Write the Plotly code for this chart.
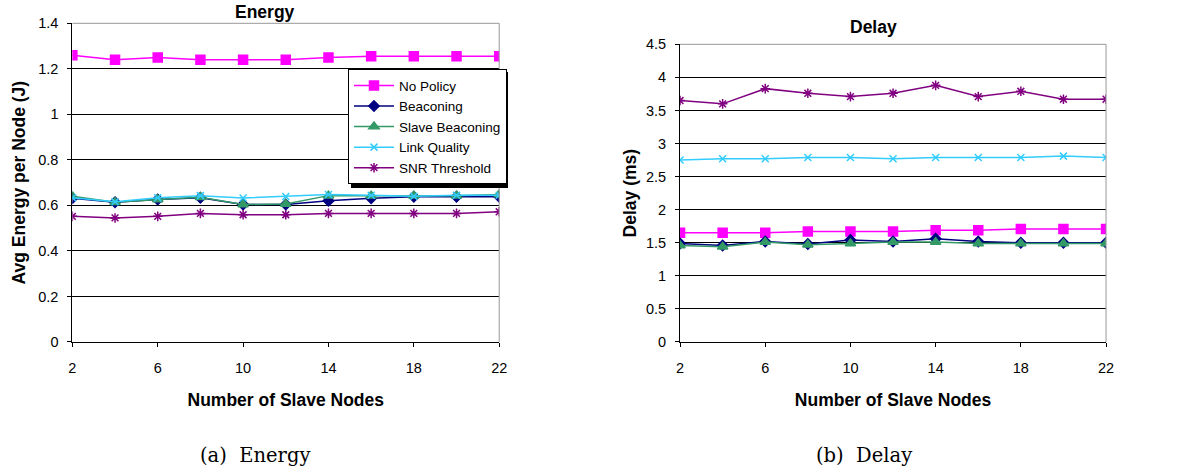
import plotly.graph_objects as go

# Number of slave nodes (x categories)
nodes = [2, 4, 6, 8, 10, 12, 14, 16, 18, 20, 22]
x_tick_labels = ["2", "6", "10", "14", "18", "22"]
x_tick_vals = [2, 6, 10, 14, 18, 22]

# Average energy per node (J)
energy_no_policy = [1.26, 1.24, 1.25, 1.24, 1.24, 1.24, 1.25, 1.255, 1.255, 1.255, 1.255]
energy_beaconing = [0.632, 0.614, 0.626, 0.634, 0.604, 0.604, 0.620, 0.632, 0.638, 0.638, 0.638]
energy_slave_beaconing = [0.640, 0.614, 0.626, 0.636, 0.604, 0.606, 0.643, 0.643, 0.643, 0.643, 0.648]
energy_link_quality = [0.634, 0.616, 0.634, 0.643, 0.633, 0.639, 0.648, 0.645, 0.640, 0.645, 0.645]
energy_snr_threshold = [0.552, 0.545, 0.552, 0.565, 0.559, 0.559, 0.565, 0.565, 0.565, 0.565, 0.572]

# Delay (ms)
delay_no_policy = [1.65, 1.65, 1.65, 1.67, 1.67, 1.67, 1.69, 1.69, 1.71, 1.71, 1.71]
delay_beaconing = [1.49, 1.46, 1.52, 1.48, 1.54, 1.52, 1.56, 1.52, 1.50, 1.50, 1.50]
delay_slave_beaconing = [1.46, 1.44, 1.51, 1.47, 1.49, 1.51, 1.51, 1.49, 1.49, 1.49, 1.49]
delay_link_quality = [2.75, 2.77, 2.77, 2.79, 2.79, 2.77, 2.79, 2.79, 2.79, 2.81, 2.79]
delay_snr_threshold = [3.65, 3.60, 3.83, 3.76, 3.71, 3.76, 3.88, 3.71, 3.79, 3.67, 3.67]

series_names = ["No Policy", "Beaconing", "Slave Beaconing", "Link Quality", "SNR Threshold"]
energy_series = [energy_no_policy, energy_beaconing, energy_slave_beaconing,
                 energy_link_quality, energy_snr_threshold]
delay_series = [delay_no_policy, delay_beaconing, delay_slave_beaconing,
                delay_link_quality, delay_snr_threshold]

colors = ["#FF00FF", "#000080", "#339966", "#33CCFF", "#800080"]
symbols = ["square", "diamond", "triangle-up", "x-thin-open", "asterisk-open"]
sizes = [9, 8, 9, 7, 8]

FONT = "Liberation Sans, Arial, sans-serif"

fig = go.Figure()


def add_series(values_list, xaxis, yaxis, show_legend):
    for name, vals, col, sym, sz in zip(series_names, values_list, colors, symbols, sizes):
        fig.add_trace(go.Scatter(
            x=nodes, y=vals, name=name, mode="lines+markers",
            xaxis=xaxis, yaxis=yaxis, showlegend=show_legend,
            line=dict(color=col, width=1.5),
            marker=dict(symbol=sym, size=sz, color=col,
                        line=dict(color=col, width=1.5)),
        ))


add_series(energy_series, "x", "y", True)
add_series(delay_series, "x2", "y2", False)

axis_common = dict(
    showline=True, linecolor="black", linewidth=1,
    ticks="outside", ticklen=4, tickcolor="black",
    tickfont=dict(family=FONT, size=14.5, color="black"),
    zeroline=False, automargin=False,
)
xcommon = dict(axis_common, range=[2, 22], tickvals=x_tick_vals, ticktext=x_tick_labels,
               showgrid=False, ticklabelstandoff=9,
               title=dict(text="<b>Number of Slave Nodes</b>",
                          font=dict(family=FONT, size=17.5, color="black"), standoff=18))
ycommon = dict(axis_common, showgrid=True, gridcolor="black", gridwidth=1,
               ticklabelstandoff=6)

fig.update_layout(
    width=1200, height=474,
    margin=dict(l=0, r=0, t=0, b=0, autoexpand=False),
    paper_bgcolor="white", plot_bgcolor="white",
    xaxis=dict(xcommon, domain=[0.0603, 0.416], anchor="y"),
    yaxis=dict(ycommon, domain=[0.2785, 0.9508], anchor="x",
               range=[0, 1.4], dtick=0.2, tickformat="~g",
               title=dict(text="<b>Avg Energy per Node (J)</b>",
                          font=dict(family=FONT, size=17.5, color="black"), standoff=8)),
    xaxis2=dict(xcommon, domain=[0.5667, 0.9217], anchor="y2"),
    yaxis2=dict(ycommon, domain=[0.2785, 0.9065], anchor="x2",
                range=[0, 4.5], dtick=0.5, tickformat="~g",
                title=dict(text="<b>Delay (ms)</b>",
                           font=dict(family=FONT, size=17.5, color="black"), standoff=4)),
    legend=dict(
        x=0.29, y=0.854, xanchor="left", yanchor="top",
        bgcolor="white", bordercolor="black", borderwidth=1,
        font=dict(family=FONT, size=13.5, color="black"),
        tracegroupgap=0, itemwidth=40,
    ),
    showlegend=True,
)

# Grey plot-area frame on the top and right edges
for xr, yr in [("x domain", "y domain"), ("x2 domain", "y2 domain")]:
    fig.add_shape(type="line", xref=xr, yref=yr, x0=0, x1=1, y0=1, y1=1,
                  line=dict(color="#999999", width=1))
    fig.add_shape(type="line", xref=xr, yref=yr, x0=1, x1=1, y0=0, y1=1,
                  line=dict(color="#999999", width=1))

# Drop shadow behind the legend box
fig.add_shape(type="rect", xref="paper", yref="paper",
              x0=351 / 1200, x1=508 / 1200, y0=1 - 188 / 474, y1=1 - 72 / 474,
              fillcolor="black", line=dict(width=0), layer="above")

# Chart titles
title_font = dict(family=FONT, size=17.5, color="black")
fig.add_annotation(text="<b>Energy</b>", x=265 / 1200, y=1 - 12 / 474, xref="paper", yref="paper",
                   xanchor="center", yanchor="middle", showarrow=False, font=title_font)
fig.add_annotation(text="<b>Delay</b>", x=873 / 1200, y=1 - 27 / 474, xref="paper", yref="paper",
                   xanchor="center", yanchor="middle", showarrow=False, font=title_font)

# Sub-figure captions
caption_font = dict(family="DejaVu Serif, serif", size=19.5, color="black")
fig.add_annotation(text="(a)  Energy", x=255 / 1200, y=1 - 455 / 474, xref="paper", yref="paper",
                   xanchor="center", yanchor="middle", showarrow=False, font=caption_font)
fig.add_annotation(text="(b)  Delay", x=864 / 1200, y=1 - 455 / 474, xref="paper", yref="paper",
                   xanchor="center", yanchor="middle", showarrow=False, font=caption_font)

fig.write_html("out.html")
